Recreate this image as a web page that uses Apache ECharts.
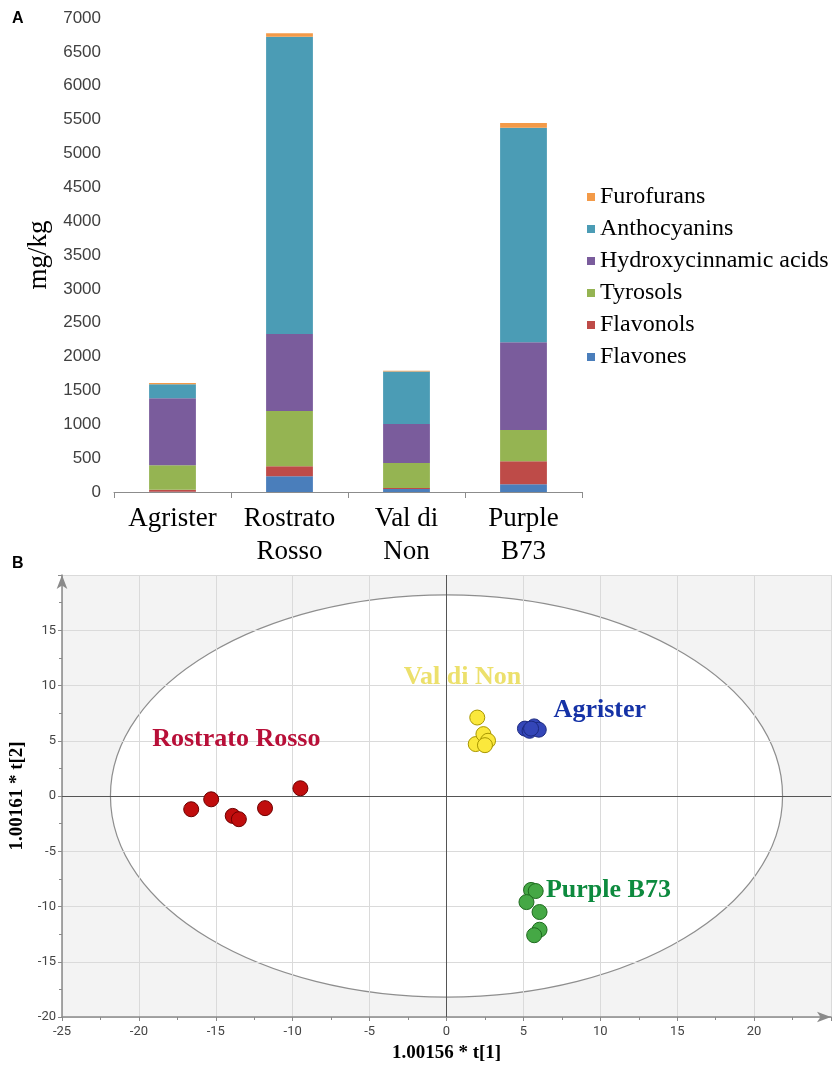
<!DOCTYPE html>
<html><head><meta charset="utf-8">
<script src="https://cdn.jsdelivr.net/npm/echarts@6/dist/echarts.min.js"></script>
<style>html,body{margin:0;padding:0;background:#fff}#c{width:839px;height:1070px}</style>
</head><body><div id="c"></div>
<script>
// ---- Panel A data (mg/kg) ----
const categories = ['Agrister', 'Rostrato\nRosso', 'Val di\nNon', 'Purple\nB73'];
const flavones = [5, 233, 45, 114];
const flavonols = [30, 148, 15, 341];
const tyrosols = [360, 816, 370, 460];
const hydroxycinnamicAcids = [990, 1137, 575, 1295];
const anthocyanins = [208, 4390, 775, 3169];
const furofurans = [15, 50, 12, 70];
const classNames = ['Flavones', 'Flavonols', 'Tyrosols', 'Hydroxycinnamic acids', 'Anthocyanins', 'Furofurans'];

// ---- Panel B data (score plot t[1], t[2]) ----
const rostratoRosso = [[-16.6, -1.2], [-15.3, -0.3], [-13.9, -1.8], [-13.5, -2.1], [-11.8, -1.1], [-9.5, 0.7]];
const valDiNon = [[2.0, 7.1], [1.9, 4.7], [2.4, 5.6], [2.7, 5.0], [2.5, 4.6]];
const agrister = [[5.1, 6.1], [5.4, 5.9], [5.7, 6.3], [6.0, 6.0], [5.5, 6.1]];
const purpleB73 = [[5.5, -8.5], [5.8, -8.6], [5.2, -9.6], [6.05, -10.5], [6.05, -12.1], [5.7, -12.6]];
const ellipseSemiAxes = [21.85, 18.2];
const groupLabels = [
  { name: 'Rostrato Rosso', at: [-19.2, 5.1] },
  { name: 'Val di Non', at: [-2.85, 10.7] },
  { name: 'Agrister', at: [6.9, 7.8] },
  { name: 'Purple B73', at: [6.4, -8.5] }
];

// ---- styles ----
const barColors = ['#4a7ebb', '#be4b48', '#95b452', '#7a5c9c', '#4b9cb5', '#f39a48'];
const groupStyle = {
  'Rostrato Rosso': { fill: '#c00d0d', border: '#6e0000', text: '#b80f38' },
  'Val di Non': { fill: '#fbe83c', border: '#a89600', text: '#ece06c' },
  'Agrister': { fill: '#3446b8', border: '#1c2a80', text: '#1532a6' },
  'Purple B73': { fill: '#45a845', border: '#1d6a1d', text: '#0d8a3e' }
};
const serif = 'Liberation Serif';

const chart = echarts.init(document.getElementById('c'), null, { renderer: 'canvas' });

const classData = [flavones, flavonols, tyrosols, hydroxycinnamicAcids, anthocyanins, furofurans];
const barSeries = classNames.map((n, i) => ({
  name: n, type: 'bar', stack: 'total', xAxisIndex: 0, yAxisIndex: 0,
  barWidth: '40%', data: classData[i], itemStyle: { color: barColors[i] }
}));

function scatterSeries(name, data) {
  const st = groupStyle[name];
  return {
    name: name, type: 'scatter', xAxisIndex: 1, yAxisIndex: 1, z: 5,
    symbolSize: 15, data: data,
    itemStyle: { color: st.fill, borderColor: st.border, borderWidth: 1, opacity: 1 }
  };
}

const labelData = groupLabels.map(g => ({
  name: g.name, value: g.at,
  label: { color: groupStyle[g.name].text }
}));

const option = {
  animation: false,
  backgroundColor: '#fff',
  color: barColors,
  graphic: [
    { type: 'text', left: 12, top: 11, style: { text: 'A', font: 'bold 16px Liberation Sans', fill: '#000' } },
    { type: 'text', left: 12, top: 556, style: { text: 'B', font: 'bold 16px Liberation Sans', fill: '#000' } }
  ],
  legend: {
    data: classNames.slice().reverse(),
    orient: 'vertical', left: 582, top: 180,
    icon: 'rect', itemWidth: 8, itemHeight: 8, itemGap: 8,
    textStyle: { fontFamily: serif, fontSize: 24, color: '#000', lineHeight: 24 },
    selectedMode: false
  },
  grid: [
    { left: 114, width: 468, top: 18, bottom: 578, outerBoundsMode: 'none', containLabel: false },
    { left: 62, right: 8, top: 575, bottom: 53, outerBoundsMode: 'none', containLabel: false,
      show: true, backgroundColor: '#f3f3f3', borderWidth: 0 }
  ],
  xAxis: [
    {
      type: 'category', gridIndex: 0, data: categories,
      axisLine: { lineStyle: { color: '#8c8c8c', width: 1 } },
      axisTick: { show: true, length: 6, lineStyle: { color: '#8c8c8c' } },
      axisLabel: { fontFamily: serif, fontSize: 27, color: '#000', lineHeight: 33, margin: 10, interval: 0 }
    },
    {
      type: 'value', gridIndex: 1, min: -25, max: 25, interval: 5, z: 3,
      name: '1.00156 * t[1]', nameLocation: 'middle', nameGap: 27,
      nameTextStyle: { fontFamily: serif, fontWeight: 'bold', fontSize: 19, color: '#000' },
      axisLine: { show: true, onZero: false, symbol: ['none', 'arrow'], symbolSize: [8, 14], lineStyle: { color: '#8a8a8a', width: 1.5 } },
      axisTick: { show: true, length: 4, lineStyle: { color: '#8a8a8a' } },
      minorTick: { show: true, splitNumber: 2, length: 3, lineStyle: { color: '#8a8a8a' } },
      splitLine: { show: true, lineStyle: { color: '#dadada', width: 1 } },
      axisLabel: { color: '#444', fontFamily: 'Roboto', fontSize: 13, margin: 8, showMaxLabel: false }
    }
  ],
  yAxis: [
    {
      type: 'value', gridIndex: 0, min: 0, max: 7000, interval: 500,
      name: 'mg/kg', nameLocation: 'middle', nameGap: 60, nameRotate: 90,
      nameTextStyle: { fontFamily: serif, fontSize: 27, color: '#000' },
      axisLine: { show: false }, axisTick: { show: false }, splitLine: { show: false },
      axisLabel: { fontFamily: 'Liberation Sans', fontSize: 17, color: '#404040', margin: 13,
        formatter: function (v) { return String(v); } }
    },
    {
      type: 'value', gridIndex: 1, min: -20, max: 20, interval: 5, z: 3,
      name: '1.00161 * t[2]', nameLocation: 'middle', nameGap: 34, nameRotate: 90,
      nameTextStyle: { fontFamily: serif, fontWeight: 'bold', fontSize: 19, color: '#000' },
      axisLine: { show: true, onZero: false, symbol: ['none', 'arrow'], symbolSize: [8, 14], lineStyle: { color: '#8a8a8a', width: 1.5 } },
      axisTick: { show: true, length: 4, lineStyle: { color: '#8a8a8a' } },
      minorTick: { show: true, splitNumber: 2, length: 3, lineStyle: { color: '#8a8a8a' } },
      splitLine: { show: true, lineStyle: { color: '#dadada', width: 1 } },
      axisLabel: { color: '#444', fontFamily: 'Roboto', fontSize: 13, margin: 6, showMaxLabel: false }
    }
  ],
  series: barSeries.concat([
    {
      type: 'custom', xAxisIndex: 1, yAxisIndex: 1, z: 1, silent: true, clip: true,
      data: [[0, 0]],
      renderItem: function (params, api) {
        const c = api.coord([api.value(0), api.value(1)]);
        const s = api.size([ellipseSemiAxes[0], ellipseSemiAxes[1]]);
        return {
          type: 'ellipse',
          shape: { cx: c[0], cy: c[1], rx: s[0], ry: s[1] },
          style: { fill: '#ffffff', stroke: '#8e8e8e', lineWidth: 1.2 }
        };
      }
    },
    {
      type: 'scatter', xAxisIndex: 1, yAxisIndex: 1, z: 4, symbolSize: 0, silent: true,
      data: [],
      markLine: {
        silent: true, symbol: ['none', 'none'], label: { show: false },
        lineStyle: { color: '#555', width: 1, type: 'solid' },
        data: [{ xAxis: 0 }, { yAxis: 0 }]
      }
    },
    scatterSeries('Rostrato Rosso', rostratoRosso),
    scatterSeries('Val di Non', valDiNon),
    scatterSeries('Agrister', agrister),
    scatterSeries('Purple B73', purpleB73),
    {
      type: 'scatter', xAxisIndex: 1, yAxisIndex: 1, z: 6, symbolSize: 2, silent: true,
      itemStyle: { color: 'rgba(0,0,0,0)' },
      data: labelData,
      label: {
        show: true, position: 'right', distance: 0, formatter: '{b}',
        fontFamily: serif, fontWeight: 'bold', fontSize: 26,
        textBorderWidth: 0, opacity: 1
      },
      labelLayout: { hideOverlap: false }
    }
  ])
};

chart.setOption(option);
</script>
</body></html>
